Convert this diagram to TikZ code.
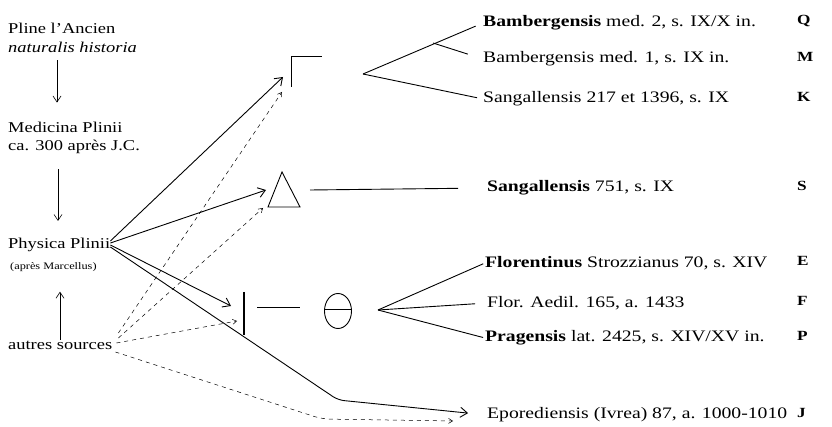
\documentclass[tikz,border=0pt]{standalone}
\usepackage{fontspec}
\setmainfont{Liberation Serif}[FakeStretch=1.23]
\usetikzlibrary{arrows.meta}
\usetikzlibrary{positioning}
\usetikzlibrary{calc}

\tikzset{
  lbl/.style={anchor=west, inner sep=0pt, font=\fontsize{15}{17}\selectfont},
  ms/.style={anchor=west, inner sep=0pt, font=\fontsize{16}{18}\selectfont},
  sigle/.style={anchor=west, inner sep=0pt, font=\fontsize{14}{16}\selectfont\bfseries},
  down/.style={-{Straight Barb[length=6pt,width=8pt]}, line width=0.6pt},
  src/.style={-{Straight Barb[length=7pt,width=10pt]}, line width=0.9pt},
  contam/.style={-{Straight Barb[length=4pt,width=5pt]}, line width=0.5pt, dash pattern=on 4pt off 4pt},
  stem/.style={line width=0.9pt}
}

\begin{document}
\begin{tikzpicture}[x=1pt,y=-1pt]
	\useasboundingbox (0,0) rectangle (832,427);

	\node[lbl] (pline) at (8,28) {Pline l'Ancien};
	\node[lbl] (nat) at (8,47) {\itshape naturalis historia};
	\node[lbl] (med) at (8,127) {Medicina Plinii};
	\node[lbl] (ca) at (8,147) {ca. 300 après J.C.};
	\node[lbl] (phy) at (8,245) {Physica Plinii};
	\node[lbl, font=\fontsize{10}{12}\selectfont] (marc) at (10,267) {(après Marcellus)};
	\node[lbl] (aut) at (8,345) {autres sources};

	\draw[down] ($(nat.south west)+(49,8)$) -- ($(med.north west)+(49,-19)$);
	\draw[down] ($(ca.south west)+(50,15)$) -- ($(phy.north west)+(50,-17)$);
	\draw[down] ($(aut.north west)+(52,-1)$) -- ($(marc.south west)+(50,20)$);

	\node[ms] (bamb2) at (483,23) {\textbf{Bambergensis} med. 2, s. IX/X in.};
	\node[ms] (bamb1) at (483,59) {Bambergensis med. 1, s. IX in.};
	\node[ms] (sang) at (483,99) {Sangallensis 217 et 1396, s. IX};
	\node[ms] (s751) at (487,188) {\textbf{Sangallensis} 751, s. IX};
	\node[ms] (flo) at (485,263) {\textbf{Florentinus} Strozzianus 70, s. XIV};
	\node[ms] (aed) at (487,303) {Flor. Aedil. 165, a. 1433};
	\node[ms] (pra) at (485,338) {\textbf{Pragensis} lat. 2425, s. XIV/XV in.};
	\node[ms] (epo) at (487,415) {Eporediensis (Ivrea) 87, a. 1000-1010};

	\node[sigle] (Q) at (797,21) {Q};
	\node[sigle] (M) at (797,57) {M};
	\node[sigle] (K) at (797,97) {K};
	\node[sigle] (S) at (797,186) {S};
	\node[sigle] (E) at (797,261) {E};
	\node[sigle] (F) at (797,301) {F};
	\node[sigle] (P) at (797,336) {P};
	\node[sigle] (J) at (797,413) {J};

	\coordinate (gam) at (283,77);
	\coordinate (tri) at (266,190);
	\coordinate (bar) at (231,306);
	\coordinate (bend) at (338,400);
	\coordinate (dgam) at (282,92);
	\coordinate (dtri) at (263,208);
	\coordinate (dbar) at (237,321);
	\coordinate (dbend) at (322,419);
	\coordinate (dend) at (453,421);
	\coordinate (brQ) at (363,74);
	\coordinate (sub) at (433,43);
	\coordinate (brE) at (378,310);

	\draw[stem] (291,87) |- (322,56);
	\draw[stem] (282,172) -- (300,207) -- (268,207) -- cycle;
	\draw[line width=1.6pt] (244,292) -- (244,335);
	\draw[stem] (257,307) -- (300,307);
	\draw[stem] (338,311) ellipse [x radius=13.5pt, y radius=17.5pt];
	\draw[stem] (324.5,309) -- (351.5,309);

	\draw[src] ([yshift=4pt]phy.east) -- (gam);
	\draw[src] ([yshift=2pt]phy.east) -- (tri);
	\draw[src] (phy.east) -- (bar);
	\draw[src, rounded corners=6pt, shorten >=19pt] ([yshift=-2pt]phy.east) -- (bend) -- (epo.west);

	\draw[contam] ([shift={(6pt,12pt)}]aut.east) -- (dgam);
	\draw[contam] ([shift={(6pt,7pt)}]aut.east) -- (dtri);
	\draw[contam] ([shift={(4pt,2pt)}]aut.east) -- (dbar);
	\draw[contam, rounded corners=8pt] ([shift={(3pt,-7pt)}]aut.east) -- (dbend) -- (dend);

	\draw[stem, shorten >=29pt] (310,190) -- (s751.west);
	\draw[stem, shorten >=8pt] (brQ) -- (bamb2.west);
	\draw[stem, shorten >=16pt] (sub) -- (bamb1.west);
	\draw[stem, shorten >=6pt] (brQ) -- (sang.west);
	\draw[stem, shorten >=2pt] (brE) -- (flo.west);
	\draw[stem, shorten >=12pt] (brE) -- (aed.west);
	\draw[stem, shorten >=2pt] (brE) -- (pra.west);
\end{tikzpicture}
\end{document}
